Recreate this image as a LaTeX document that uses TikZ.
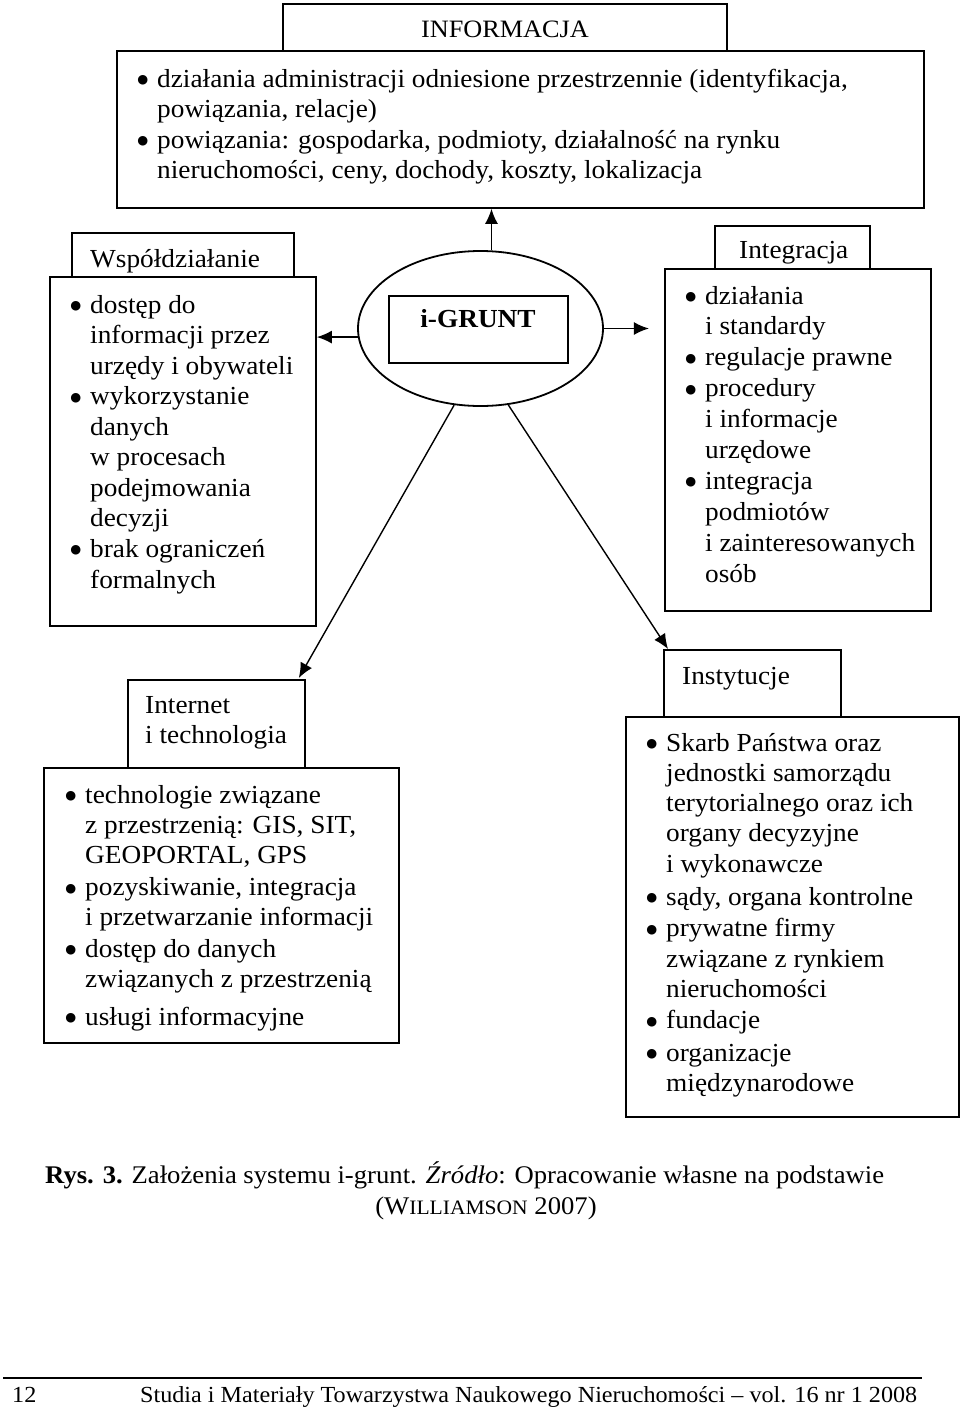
\documentclass[tikz,border=0pt]{standalone}
\usepackage{fontspec}
\setmainfont{Liberation Serif}[FakeStretch=1.05]
\newfontfamily\symfont{DejaVu Sans}
\usetikzlibrary{arrows.meta,shapes.geometric,calc}
\newcommand{\bu}{\leavevmode\llap{\raisebox{3.6pt}{\symfont\fontsize{12.5}{12.5}\selectfont ●}\hspace{9pt}}}
\newcommand{\lines}[1]{\begin{tabular}[t]{@{}l@{}}#1\end{tabular}}
\begin{document}
\begin{tikzpicture}[x=1pt,y=-1pt,
  box/.style={draw, line width=1.8pt, inner sep=0pt, anchor=north west},
  txt/.style={inner sep=0pt, anchor=base west},
  arr/.style={line width=1.6pt, -{Latex[length=15pt,width=13pt]}},
  ln/.style={line width=1.4pt},
]
\useasboundingbox (0,0) rectangle (960,1414);
\fill[white] (0,0) rectangle (960,1414);

% ---- INFORMACJA ----
\node[box, minimum width=444pt, minimum height=47pt] (infotab) at (282,3) {};
\node[box, minimum width=807pt, minimum height=157pt] (info) at (116,50) {};
\node[inner sep=0pt, anchor=base, font=\fontsize{25}{30}\selectfont] (infolab) at (505,37) {INFORMACJA};
\node[txt, font=\fontsize{26}{30.5}\selectfont] (infotxt) at (157,87)
  {\lines{\bu działania administracji odniesione przestrzennie (identyfikacja,\\
   powiązania, relacje)\\
   \bu powiązania: gospodarka, podmioty, działalność na rynku\\
   nieruchomości, ceny, dochody, koszty, lokalizacja}};

% ---- centre ----
\node[draw, ellipse, line width=1.8pt, inner sep=0pt, minimum width=245pt, minimum height=155pt] (ell) at (480.5,328.5) {};
\node[box, minimum width=179pt, minimum height=67pt] (grect) at (388,295) {};
\node[inner sep=0pt, anchor=base, font=\fontsize{26}{30}\selectfont\bfseries] (glab) at (478,327) {i-GRUNT};

% ---- Wspoldzialanie ----
\node[box, minimum width=222pt, minimum height=44pt] (wsptab) at (71,232) {};
\node[box, minimum width=266pt, minimum height=349pt] (wsp) at (49,276) {};
\node[txt, font=\fontsize{26}{30}\selectfont] (wsplab) at (90,267) {Współdziałanie};
\node[txt, font=\fontsize{26}{30.56}\selectfont] (wsptxt) at (90,313)
  {\lines{\bu dostęp do\\
   informacji przez\\
   urzędy i obywateli\\
   \bu wykorzystanie\\
   danych\\
   w procesach\\
   podejmowania\\
   decyzji\\
   \bu brak ograniczeń\\
   formalnych}};

% ---- Integracja ----
\node[box, minimum width=155pt, minimum height=43pt] (inttab) at (714,225) {};
\node[box, minimum width=266pt, minimum height=342pt] (int) at (664,268) {};
\node[txt, font=\fontsize{26}{30}\selectfont] (intlab) at (739,258) {Integracja};
\node[txt, font=\fontsize{26}{30.9}\selectfont] (inttxt) at (705,304)
  {\lines{\bu działania\\
   i standardy\\
   \bu regulacje prawne\\
   \bu procedury\\
   i informacje\\
   urzędowe\\
   \bu integracja\\
   podmiotów\\
   i zainteresowanych\\
   osób}};

% ---- Internet i technologia ----
\node[box, minimum width=177pt, minimum height=88pt] (ittab) at (127,679) {};
\node[box, minimum width=355pt, minimum height=275pt] (it) at (43,767) {};
\node[txt, font=\fontsize{26}{30}\selectfont] (itlab) at (145,713) {\lines{Internet\\ i technologia}};
\node[txt, font=\fontsize{26}{30.2}\selectfont] (ittxt) at (85,803)
  {\lines{\bu technologie związane\\
   z przestrzenią: GIS, SIT,\\
   GEOPORTAL, GPS\\[2pt]
   \bu pozyskiwanie, integracja\\
   i przetwarzanie informacji\\[1pt]
   \bu dostęp do danych\\
   związanych z przestrzenią\\[8pt]
   \bu usługi informacyjne}};

% ---- Instytucje ----
\node[box, minimum width=177pt, minimum height=67pt] (insttab) at (663,649) {};
\node[box, minimum width=333pt, minimum height=400pt] (inst) at (625,716) {};
\node[txt, font=\fontsize{26}{30}\selectfont] (instlab) at (682,684) {Instytucje};
\node[txt, font=\fontsize{26}{30.3}\selectfont] (insttxt) at (666,751)
  {\lines{\bu Skarb Państwa oraz\\
   jednostki samorządu\\
   terytorialnego oraz ich\\
   organy decyzyjne\\
   i wykonawcze\\[3pt]
   \bu sądy, organa kontrolne\\[1pt]
   \bu prywatne firmy\\
   związane z rynkiem\\
   nieruchomości\\[1pt]
   \bu fundacje\\[2pt]
   \bu organizacje\\
   międzynarodowe}};

% ---- connectors ----
\draw[arr] (ell.82) -- (ell.82 |- info.south);
\draw[arr] (ell.184) -- (ell.184 -| wsp.east);
\coordinate (rtip) at ($(ell.east)+(45,0)$);
\draw[arr] (ell.east) -- (rtip);
\coordinate (itip) at ($(ittab.north east)+(-7,-1)$);
\draw[arr, line width=1.4pt] (ell.251) -- (itip);
\coordinate (stip) at ($(insttab.north west)+(5,0)$);
\draw[arr, line width=1.4pt] (ell.290) -- (stip);

% ---- caption ----
\node[txt, font=\fontsize{25.4}{30}\selectfont] (cap1) at (45,1183)
  {\textbf{Rys. 3.} Założenia systemu i-grunt. \textit{Źródło}: Opracowanie własne na podstawie};
\node[inner sep=0pt, anchor=base, font=\fontsize{25.4}{30}\selectfont] (cap2) at (486,1214)
  {(W{\fontsize{20.5}{24}\selectfont ILLIAMSON} 2007)};

% ---- footer ----
\draw[ln] (3,1378) -- (922,1378);
\node[txt, font=\fontsize{23}{28}\selectfont] (pnum) at (12,1402) {12};
\node[txt, font=\fontsize{23}{28}\selectfont] (journal) at (140,1402)
  {Studia i Materiały Towarzystwa Naukowego Nieruchomości – vol. 16 nr 1 2008};
\end{tikzpicture}
\end{document}
